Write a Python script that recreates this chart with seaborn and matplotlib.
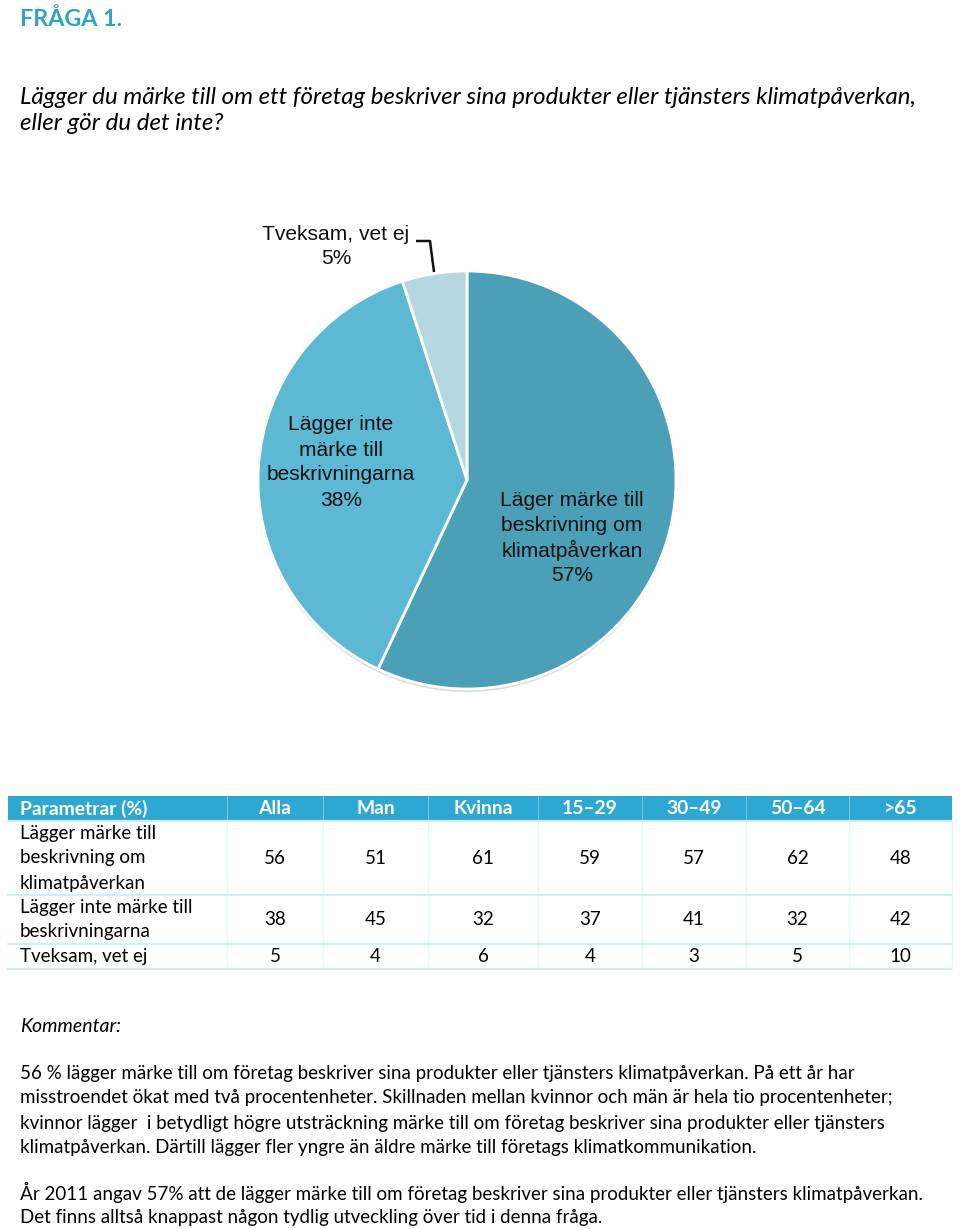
import matplotlib
matplotlib.use("Agg")
import matplotlib.pyplot as plt
from matplotlib.patches import Rectangle, Circle
import seaborn as sns

# pie data
pie_labels = ["Läger märke till\nbeskrivning om\nklimatpåverkan",
              "Lägger inte\nmärke till\nbeskrivningarna",
              "Tveksam, vet ej"]
pie_values = [57, 38, 5]
pie_colors = ["#4BA0B7", "#5CB8D3", "#B4D7E2"]

# table data
col_names = ["Alla", "Man", "Kvinna", "15–29", "30–49", "50–64", ">65"]
row_names = ["Lägger märke till\nbeskrivning om\nklimatpåverkan",
             "Lägger inte märke till\nbeskrivningarna",
             "Tveksam, vet ej"]
row_alla = [56, 38, 5]
row_man = [51, 45, 4]
row_kvinna = [61, 32, 6]
row_1529 = [59, 37, 4]
row_3049 = [57, 41, 3]
row_5064 = [62, 32, 5]
row_65 = [48, 42, 10]

title = "FRÅGA 1."
question = ["Lägger du märke till om ett företag beskriver sina produkter eller tjänsters klimatpåverkan,",
            "eller gör du det inte?"]
comment_lines = [
    "56 % lägger märke till om företag beskriver sina produkter eller tjänsters klimatpåverkan. På ett år har",
    "misstroendet ökat med två procentenheter. Skillnaden mellan kvinnor och män är hela tio procentenheter;",
    "kvinnor lägger  i betydligt högre utsträckning märke till om företag beskriver sina produkter eller tjänsters",
    "klimatpåverkan. Därtill lägger fler yngre än äldre märke till företags klimatkommunikation.",
]
comment_lines2 = [
    "År 2011 angav 57% att de lägger märke till om företag beskriver sina produkter eller tjänsters klimatpåverkan.",
    "Det finns alltså knappast någon tydlig utveckling över tid i denna fråga.",
]

sns.set_theme(style="white")
body_font = ["Lato", "DejaVu Sans"]
pie_font = ["Liberation Sans", "DejaVu Sans"]
plt.rcParams["font.family"] = body_font

W, H = 960, 1229
fig = plt.figure(figsize=(W / 100, H / 100), dpi=100)
fig.patch.set_facecolor("white")

def px(size):
    return size * 0.72

# pie
cx, cy, r = 467, 480, 209
half = 235
pax = fig.add_axes([(cx - half) / W, (H - cy - half) / H, 2 * half / W, 2 * half / H])
pax.set_xlim(-half, half)
pax.set_ylim(-half, half)
pax.axis("off")
pax.add_patch(Circle((0, -3), r, color="#9a9a9a", alpha=0.35, zorder=0, lw=0))
pax.pie(pie_values, colors=pie_colors, startangle=90, counterclock=False, radius=r,
        wedgeprops=dict(edgecolor="white", linewidth=2, zorder=1))
pax.set_xlim(-half, half)
pax.set_ylim(-half, half)

# overlay axes in pixel coords, on top of the pie
ax = fig.add_axes([0, 0, 1, 1])
ax.set_xlim(0, W)
ax.set_ylim(H, 0)
ax.axis("off")
ax.set_zorder(5)
ax.patch.set_alpha(0)

# title and question
ax.text(20, 19, title, fontsize=px(23.3), fontweight="bold", color="#2FA3C7", va="center", ha="left")
for i, line in enumerate(question):
    ax.text(20, 97 + i * 26, line, fontsize=px(24), style="italic", color="black", va="center", ha="left")

# pie labels
def multiline(x, y, text, size, family, spacing, **kw):
    lines = text.split("\n")
    for i, ln in enumerate(lines):
        ax.text(x, y + i * spacing, ln, fontsize=px(size), family=family, ha="center", va="center", **kw)

multiline(572, 500, pie_labels[0] + "\n%d%%" % pie_values[0], 21, pie_font, 25.3, color="#111111")
multiline(341, 425, pie_labels[1] + "\n%d%%" % pie_values[1], 21, pie_font, 25, color="#111111")
multiline(336, 235, pie_labels[2] + "\n%d%%" % pie_values[2], 21, pie_font, 23, color="#111111")
ax.plot([416, 430, 434], [241, 241, 272], color="#111111", lw=1.8, solid_capstyle="butt")

# table
col_edges = [8, 227, 323, 428, 538, 642, 746, 849, 952]
row_edges = [796, 821, 895, 944, 969]
header_color = "#2EA8D3"
grid_color = "#D3EDF5"
table_vals = [row_alla, row_man, row_kvinna, row_1529, row_3049, row_5064, row_65]
fs_body = px(18.8)
fs_head = px(19.3)

ax.add_patch(Rectangle((col_edges[0], row_edges[0]), col_edges[-1] - col_edges[0],
                       row_edges[1] - row_edges[0], color=header_color, lw=0))
for x in col_edges[1:-1]:
    ax.plot([x, x], [row_edges[0], row_edges[1]], color="#6FC4E2", lw=0.8)
    ax.plot([x, x], [row_edges[1], row_edges[-1]], color="#E6F5FA", lw=1)
for y in row_edges[1:]:
    ax.plot([col_edges[0], col_edges[-1]], [y, y], color=grid_color, lw=1.5)
ax.plot([col_edges[-1], col_edges[-1]], [row_edges[1], row_edges[-1]], color="#E6F5FA", lw=1)

hy = (row_edges[0] + row_edges[1]) / 2
ax.text(20, hy, "Parametrar (%)", fontsize=fs_head, fontweight="bold", color="white", va="center")
for j, name in enumerate(col_names):
    xc = (col_edges[j + 1] + col_edges[j + 2]) / 2
    ax.text(xc, hy, name, fontsize=fs_head, fontweight="bold", color="white", va="center", ha="center")

for i, name in enumerate(row_names):
    yc = (row_edges[i + 1] + row_edges[i + 2]) / 2
    lines = name.split("\n")
    for k, ln in enumerate(lines):
        ax.text(20, yc + (k - (len(lines) - 1) / 2) * 25, ln, fontsize=fs_body, color="black", va="center")
    for j, col in enumerate(table_vals):
        xc = (col_edges[j + 1] + col_edges[j + 2]) / 2
        ax.text(xc, yc, str(col[i]), fontsize=fs_body, color="black", va="center", ha="center")

# comment
ax.text(20, 1027, "Kommentar:", fontsize=px(19.5), style="italic", color="black", va="center")
for i, line in enumerate(comment_lines):
    ax.text(20, 1073 + i * 25, line, fontsize=fs_body, color="black", va="center")
for i, line in enumerate(comment_lines2):
    ax.text(20, 1192 + i * 25, line, fontsize=fs_body, color="black", va="center")

fig.savefig("out.png", dpi=100, facecolor="white")
